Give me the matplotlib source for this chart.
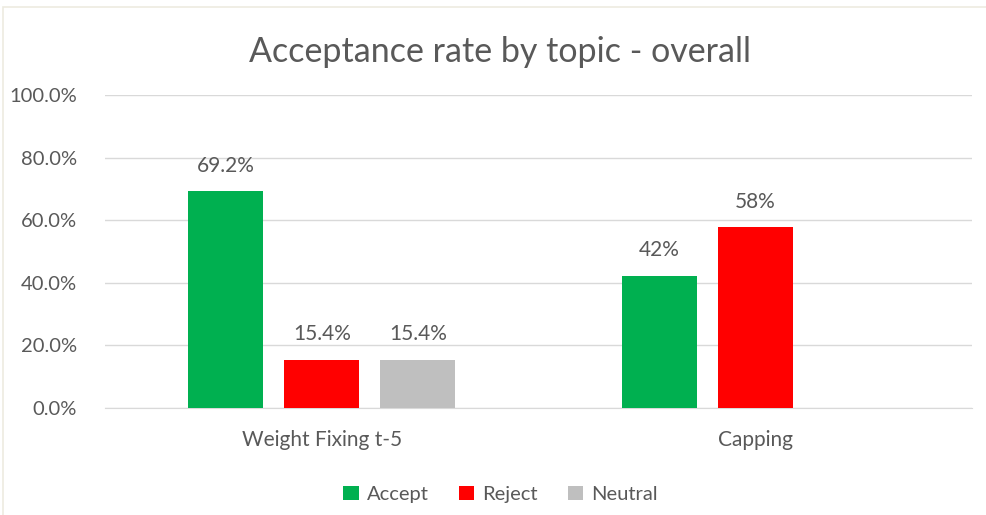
import matplotlib
matplotlib.use("Agg")
import matplotlib.pyplot as plt
import numpy as np
from matplotlib.patches import Rectangle

plt.rcParams["font.family"] = ["Lato", "DejaVu Sans"]

CATEGORIES = ["Weight Fixing t-5", "Capping"]
SERIES = ["Accept", "Reject", "Neutral"]
VALUES = {
    "Accept": [69.2, 42.3],
    "Reject": [15.4, 57.7],
    "Neutral": [15.4, None],
}
LABELS = {
    "Accept": ["69.2%", "42%"],
    "Reject": ["15.4%", "58%"],
    "Neutral": ["15.4%", None],
}
COLORS = {"Accept": "#00B050", "Reject": "#FF0000", "Neutral": "#BFBFBF"}
Y_TICKS = [0, 20, 40, 60, 80, 100]

TEXT = "#595959"
GRID = "#D9D9D9"

fig = plt.figure(figsize=(9.87, 5.15), dpi=100)
ax = fig.add_axes([0.1064, 0.2078, 0.8784, 0.6077])

# chart border (only top/left visible in the reference)
fig.add_artist(Rectangle((3 / 987, -0.1), 1.1, 1 - 7 / 515 + 0.1, transform=fig.transFigure,
                         fill=False, edgecolor="#EDEBE0", linewidth=1.2))

x = np.arange(len(CATEGORIES))
width = 0.173
step = 0.2215
for i, s in enumerate(SERIES):
    for j, v in enumerate(VALUES[s]):
        if v is None:
            continue
        xp = x[j] + (i - 1) * step
        ax.bar(xp, v, width=width, color=COLORS[s], zorder=3,
               label=s if j == 0 else None)
        ax.text(xp, v + 5.0, LABELS[s][j], ha="center", va="bottom",
                fontsize=15, color=TEXT)

ax.set_xlim(-0.5, 1.5)
ax.set_ylim(0, 100)
ax.set_yticks(Y_TICKS)
ax.set_yticklabels([f"{t:.1f}%" for t in Y_TICKS])
ax.set_xticks(x)
ax.set_xticklabels(CATEGORIES)
ax.tick_params(axis="y", length=0, pad=20, labelsize=14.5, labelcolor=TEXT)
ax.tick_params(axis="x", length=0, pad=16, labelsize=15, labelcolor=TEXT)
ax.grid(axis="y", color=GRID, linewidth=1, zorder=0)
ax.set_axisbelow(True)
for side in ["top", "right", "left"]:
    ax.spines[side].set_visible(False)
ax.spines["bottom"].set_color(GRID)

fig.text(0.507, 0.9, "Acceptance rate by topic - overall", ha="center", va="center",
         fontsize=24.5, color=TEXT)

handles, labels = ax.get_legend_handles_labels()
fig.legend(handles, labels, loc="center", bbox_to_anchor=(0.507, 0.04), ncol=3,
           frameon=False, fontsize=14.5, labelcolor=TEXT, handlelength=0.75,
           handleheight=0.75, handletextpad=0.4, columnspacing=1.5)

fig.savefig("out.png", dpi=100)
